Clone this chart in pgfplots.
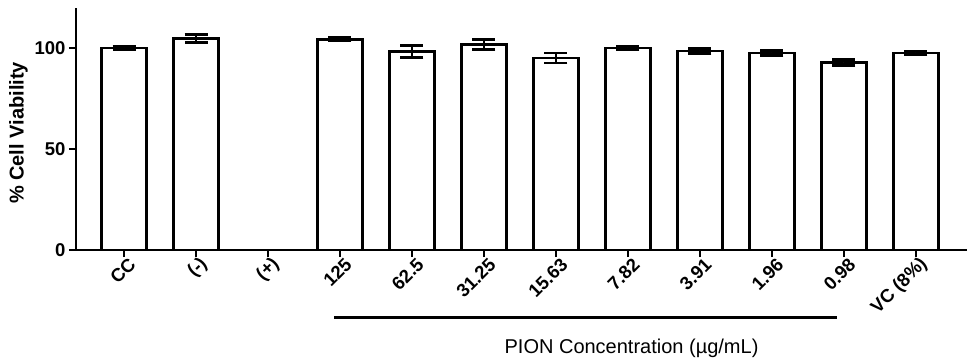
\documentclass[border=0pt]{standalone}
\usepackage{pgfplots}
\pgfplotsset{compat=1.18}
\usepackage{fontspec}
\setmainfont{Liberation Sans}
\begin{document}
\begin{tikzpicture}
\useasboundingbox (-76pt,-110pt) rectangle (893pt,250pt);
\begin{axis}[
  at={(0pt,0pt)}, anchor=south west,
  scale only axis, width=891pt, height=242pt,
  xmin=-0.667, xmax=11.71, ymin=0, ymax=120,
  axis lines=left, axis line style={-, line width=2.8pt},
  clip=false,
  xtick={0,...,11},
  xticklabels={CC,(-),(+),125,62.5,31.25,15.63,7.82,3.91,1.96,0.98,VC (8\%)},
  ytick={0,50,100},
  tick align=outside, major tick length=7pt,
  tick style={line width=2pt, black},
  /pgf/number format/assume math mode=true,
  xticklabel style={font=\bfseries\fontsize{18.5}{18.5}\selectfont, rotate=45, anchor=east, inner sep=1pt, xshift=4pt, yshift=-9pt},
  yticklabel style={font=\bfseries\fontsize{18.5}{18.5}\selectfont},
  ylabel={\% Cell Viability},
  ylabel style={font=\bfseries\fontsize{20}{20}\selectfont, xshift=-4pt},
]
\addplot[ybar, bar width=45pt, fill=white, draw=black, line width=2.8pt,
  error bars/.cd, y dir=both, y explicit,
  error bar style={line width=2.8pt},
  error mark options={rotate=90, mark size=11.5pt, line width=2.8pt}]
  table[x=x, y=y, y error=e] {
x y e
0 100.2 0.6
1 105.0 2.0
3 104.5 0.9
4 98.4 2.9
5 101.8 2.5
6 95.2 2.5
7 100.2 0.9
8 98.7 1.2
9 97.7 1.2
10 92.9 1.5
11 97.7 1.0
};
\draw[line width=2.8pt] (axis cs:2.92,-33.3) -- (axis cs:9.9,-33.3);
\node[font=\fontsize{20}{20}\selectfont] at (axis cs:7.05,-48.8) {PION Concentration (µg/mL)};
\end{axis}
\end{tikzpicture}
\end{document}
